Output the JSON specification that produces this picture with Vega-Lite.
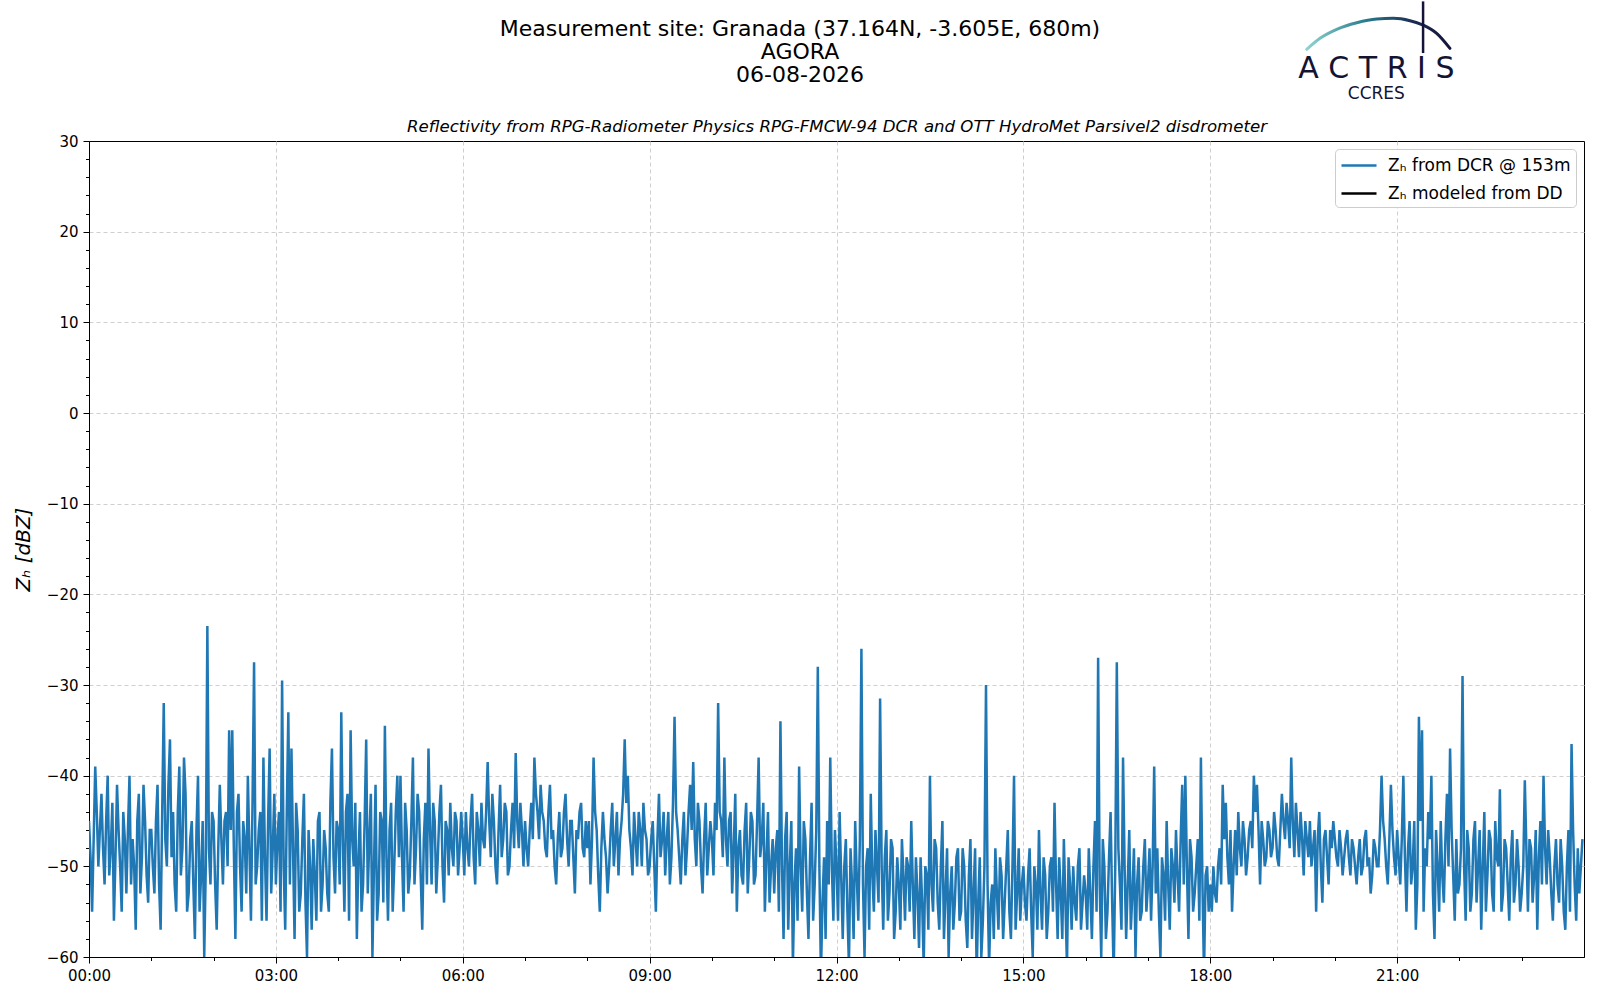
{
  "$schema": "https://vega.github.io/schema/vega-lite/v6.json",
  "width": 1495,
  "height": 816,
  "autosize": {"type": "none"},
  "padding": {"left": 89, "top": 141, "right": 16, "bottom": 43},
  "background": "white",
  "config": {
    "font": "DejaVu Sans",
    "view": {"stroke": "black", "strokeWidth": 1},
    "axis": {
      "domainColor": "black",
      "tickColor": "black",
      "labelColor": "black",
      "titleColor": "black",
      "labelFont": "DejaVu Sans",
      "titleFont": "DejaVu Sans",
      "labelFontSize": 15,
      "titleFontWeight": "normal",
      "gridColor": "#cfcfcf",
      "gridDash": [4, 3]
    }
  },
  "datasets": {
    "dcr": [
      {"m":0,"z":-45},{"m":3,"z":-55},{"m":6,"z":-39},{"m":9,"z":-50},{"m":12,"z":-42},{"m":15,"z":-52},{"m":18,"z":-40},{"m":21,"z":-48},{"m":24,"z":-56},{"m":27,"z":-41},{"m":30,"z":-50},{"m":33,"z":-44},{"m":36,"z":-53},{"m":39,"z":-40},{"m":42,"z":-47},{"m":45,"z":-57},{"m":48,"z":-42},{"m":51,"z":-49},{"m":54,"z":-45},{"m":57,"z":-54},
      {"m":60,"z":-46},{"m":63,"z":-53},{"m":66,"z":-41},{"m":69,"z":-57},{"m":72,"z":-32},{"m":75,"z":-50},{"m":78,"z":-36},{"m":81,"z":-44},{"m":84,"z":-55},{"m":87,"z":-39},{"m":90,"z":-48},{"m":93,"z":-42},{"m":96,"z":-53},{"m":99,"z":-45},{"m":102,"z":-58},{"m":105,"z":-40},{"m":108,"z":-51},{"m":111,"z":-60},{"m":114,"z":-23.5},{"m":117,"z":-52},
      {"m":120,"z":-45},{"m":123,"z":-57},{"m":126,"z":-41},{"m":129,"z":-52},{"m":132,"z":-44},{"m":135,"z":-35},{"m":138,"z":-35},{"m":141,"z":-58},{"m":144,"z":-42},{"m":147,"z":-55},{"m":150,"z":-47},{"m":153,"z":-40},{"m":156,"z":-56},{"m":159,"z":-27.5},{"m":162,"z":-50},{"m":165,"z":-44},{"m":168,"z":-38},{"m":171,"z":-56},{"m":174,"z":-37},{"m":177,"z":-48},
      {"m":180,"z":-52},{"m":183,"z":-44},{"m":186,"z":-29.5},{"m":189,"z":-57},{"m":192,"z":-33},{"m":195,"z":-37},{"m":198,"z":-58},{"m":201,"z":-46},{"m":204,"z":-53},{"m":207,"z":-42},{"m":210,"z":-60},{"m":213,"z":-50},{"m":216,"z":-47},{"m":219,"z":-56},{"m":222,"z":-44},{"m":225,"z":-52},{"m":228,"z":-48},{"m":231,"z":-55},{"m":234,"z":-37},{"m":237,"z":-53},
      {"m":240,"z":-46},{"m":243,"z":-33},{"m":246,"z":-55},{"m":249,"z":-42},{"m":252,"z":-35},{"m":255,"z":-50},{"m":258,"z":-58},{"m":261,"z":-44},{"m":264,"z":-52},{"m":267,"z":-36},{"m":270,"z":-47},{"m":273,"z":-60},{"m":276,"z":-41},{"m":279,"z":-53},{"m":282,"z":-45},{"m":285,"z":-34.5},{"m":288,"z":-56},{"m":291,"z":-43},{"m":294,"z":-50},{"m":297,"z":-40},
      {"m":300,"z":-40},{"m":303,"z":-55},{"m":306,"z":-46},{"m":309,"z":-51},{"m":312,"z":-38},{"m":315,"z":-48},{"m":318,"z":-44},{"m":321,"z":-57},{"m":324,"z":-43},{"m":327,"z":-37},{"m":330,"z":-52},{"m":333,"z":-45},{"m":336,"z":-49},{"m":339,"z":-41},{"m":342,"z":-54},{"m":345,"z":-46},{"m":348,"z":-43},{"m":351,"z":-50},{"m":354,"z":-45},{"m":357,"z":-48},
      {"m":360,"z":-47},{"m":363,"z":-44},{"m":366,"z":-50},{"m":369,"z":-42},{"m":372,"z":-52},{"m":375,"z":-46},{"m":378,"z":-43},{"m":381,"z":-48},{"m":384,"z":-38.5},{"m":387,"z":-49},{"m":390,"z":-45},{"m":393,"z":-52},{"m":396,"z":-41},{"m":399,"z":-47},{"m":402,"z":-44},{"m":405,"z":-50},{"m":408,"z":-43},{"m":411,"z":-37.5},{"m":414,"z":-48},{"m":417,"z":-46},
      {"m":420,"z":-45},{"m":423,"z":-50},{"m":426,"z":-43},{"m":429,"z":-38},{"m":432,"z":-44},{"m":435,"z":-41},{"m":438,"z":-45},{"m":441,"z":-49},{"m":444,"z":-41},{"m":447,"z":-46},{"m":450,"z":-52},{"m":453,"z":-44},{"m":456,"z":-48},{"m":459,"z":-42},{"m":462,"z":-50},{"m":465,"z":-45},{"m":468,"z":-53},{"m":471,"z":-47},{"m":474,"z":-43},{"m":477,"z":-49},
      {"m":480,"z":-48},{"m":483,"z":-52},{"m":486,"z":-38},{"m":489,"z":-46},{"m":492,"z":-55},{"m":495,"z":-44},{"m":498,"z":-49},{"m":501,"z":-50},{"m":504,"z":-43},{"m":507,"z":-47},{"m":510,"z":-51},{"m":513,"z":-45},{"m":516,"z":-36},{"m":519,"z":-40},{"m":522,"z":-48},{"m":525,"z":-44},{"m":528,"z":-50},{"m":531,"z":-46},{"m":534,"z":-43},{"m":537,"z":-47},
      {"m":540,"z":-50},{"m":543,"z":-45},{"m":546,"z":-55},{"m":549,"z":-42},{"m":552,"z":-47},{"m":555,"z":-51},{"m":558,"z":-44},{"m":561,"z":-49},{"m":564,"z":-33.5},{"m":567,"z":-46},{"m":570,"z":-52},{"m":573,"z":-44},{"m":576,"z":-48},{"m":579,"z":-41},{"m":582,"z":-38.5},{"m":585,"z":-50},{"m":588,"z":-45},{"m":591,"z":-53},{"m":594,"z":-43},{"m":597,"z":-48},
      {"m":600,"z":-47},{"m":603,"z":-43},{"m":606,"z":-32},{"m":609,"z":-45},{"m":612,"z":-38},{"m":615,"z":-50},{"m":618,"z":-44},{"m":621,"z":-48},{"m":624,"z":-55},{"m":627,"z":-46},{"m":630,"z":-52},{"m":633,"z":-43},{"m":636,"z":-49},{"m":639,"z":-45},{"m":642,"z":-51},{"m":645,"z":-38},{"m":648,"z":-47},{"m":651,"z":-55},{"m":654,"z":-44},{"m":657,"z":-50},
      {"m":660,"z":-53},{"m":663,"z":-46},{"m":666,"z":-34},{"m":669,"z":-58},{"m":672,"z":-44},{"m":675,"z":-50},{"m":678,"z":-61},{"m":681,"z":-48},{"m":684,"z":-39},{"m":687,"z":-55},{"m":690,"z":-47},{"m":693,"z":-58},{"m":696,"z":-43},{"m":699,"z":-52},{"m":702,"z":-28},{"m":705,"z":-62},{"m":708,"z":-49},{"m":711,"z":-45},{"m":714,"z":-38},{"m":717,"z":-56},
      {"m":720,"z":-50},{"m":723,"z":-44},{"m":726,"z":-58},{"m":729,"z":-47},{"m":732,"z":-61},{"m":735,"z":-52},{"m":738,"z":-45},{"m":741,"z":-56},{"m":744,"z":-26},{"m":747,"z":-60},{"m":750,"z":-48},{"m":753,"z":-42},{"m":756,"z":-55},{"m":759,"z":-50},{"m":762,"z":-31.5},{"m":765,"z":-57},{"m":768,"z":-46},{"m":771,"z":-53},{"m":774,"z":-48},{"m":777,"z":-55},
      {"m":780,"z":-52},{"m":783,"z":-47},{"m":786,"z":-56},{"m":789,"z":-50},{"m":792,"z":-45},{"m":795,"z":-58},{"m":798,"z":-53},{"m":801,"z":-49},{"m":804,"z":-61},{"m":807,"z":-51},{"m":810,"z":-40},{"m":813,"z":-55},{"m":816,"z":-48},{"m":819,"z":-57},{"m":822,"z":-45},{"m":825,"z":-53},{"m":828,"z":-60},{"m":831,"z":-50},{"m":834,"z":-54},{"m":837,"z":-48},
      {"m":840,"z":-55},{"m":843,"z":-50},{"m":846,"z":-59},{"m":849,"z":-47},{"m":852,"z":-53},{"m":855,"z":-62},{"m":858,"z":-49},{"m":861,"z":-56},{"m":864,"z":-30},{"m":867,"z":-61},{"m":870,"z":-52},{"m":873,"z":-48},{"m":876,"z":-57},{"m":879,"z":-51},{"m":882,"z":-54},{"m":885,"z":-46},{"m":888,"z":-58},{"m":891,"z":-40},{"m":894,"z":-53},{"m":897,"z":-56},
      {"m":900,"z":-50},{"m":903,"z":-56},{"m":906,"z":-48},{"m":909,"z":-60},{"m":912,"z":-52},{"m":915,"z":-46},{"m":918,"z":-57},{"m":921,"z":-51},{"m":924,"z":-55},{"m":927,"z":-49},{"m":930,"z":-43},{"m":933,"z":-58},{"m":936,"z":-53},{"m":939,"z":-47},{"m":942,"z":-61},{"m":945,"z":-52},{"m":948,"z":-50},{"m":951,"z":-56},{"m":954,"z":-48},{"m":957,"z":-54},
      {"m":960,"z":-53},{"m":963,"z":-48},{"m":966,"z":-58},{"m":969,"z":-45},{"m":972,"z":-27},{"m":975,"z":-60},{"m":978,"z":-50},{"m":981,"z":-55},{"m":984,"z":-44},{"m":987,"z":-62},{"m":990,"z":-27.5},{"m":993,"z":-52},{"m":996,"z":-38},{"m":999,"z":-58},{"m":1002,"z":-46},{"m":1005,"z":-53},{"m":1008,"z":-60},{"m":1011,"z":-49},{"m":1014,"z":-55},{"m":1017,"z":-47},
      {"m":1020,"z":-52},{"m":1023,"z":-56},{"m":1026,"z":-39},{"m":1029,"z":-48},{"m":1032,"z":-60},{"m":1035,"z":-51},{"m":1038,"z":-45},{"m":1041,"z":-57},{"m":1044,"z":-50},{"m":1047,"z":-46},{"m":1050,"z":-55},{"m":1053,"z":-41},{"m":1056,"z":-40},{"m":1059,"z":-58},{"m":1062,"z":-49},{"m":1065,"z":-53},{"m":1068,"z":-47},{"m":1071,"z":-38},{"m":1074,"z":-62},{"m":1077,"z":-50},
      {"m":1080,"z":-52},{"m":1083,"z":-50},{"m":1086,"z":-54},{"m":1089,"z":-48},{"m":1092,"z":-41},{"m":1095,"z":-43},{"m":1098,"z":-52},{"m":1101,"z":-55},{"m":1104,"z":-46},{"m":1107,"z":-44},{"m":1110,"z":-50},{"m":1113,"z":-47},{"m":1116,"z":-49},{"m":1119,"z":-45},{"m":1122,"z":-40},{"m":1125,"z":-41},{"m":1128,"z":-52},{"m":1131,"z":-47},{"m":1134,"z":-49},{"m":1137,"z":-46},
      {"m":1140,"z":-48},{"m":1143,"z":-46},{"m":1146,"z":-50},{"m":1149,"z":-42},{"m":1152,"z":-47},{"m":1155,"z":-45},{"m":1158,"z":-38},{"m":1161,"z":-49},{"m":1164,"z":-46},{"m":1167,"z":-44},{"m":1170,"z":-51},{"m":1173,"z":-47},{"m":1176,"z":-45},{"m":1179,"z":-48},{"m":1182,"z":-55},{"m":1185,"z":-44},{"m":1188,"z":-54},{"m":1191,"z":-46},{"m":1194,"z":-52},{"m":1197,"z":-48},
      {"m":1200,"z":-47},{"m":1203,"z":-50},{"m":1206,"z":-48},{"m":1209,"z":-49},{"m":1212,"z":-46},{"m":1215,"z":-51},{"m":1218,"z":-48},{"m":1221,"z":-52},{"m":1224,"z":-47},{"m":1227,"z":-50},{"m":1230,"z":-46},{"m":1233,"z":-49},{"m":1236,"z":-51},{"m":1239,"z":-48},{"m":1242,"z":-50},{"m":1245,"z":-40},{"m":1248,"z":-47},{"m":1251,"z":-52},{"m":1254,"z":-41},{"m":1257,"z":-49},
      {"m":1260,"z":-46},{"m":1263,"z":-52},{"m":1266,"z":-40},{"m":1269,"z":-55},{"m":1272,"z":-45},{"m":1275,"z":-50},{"m":1278,"z":-57},{"m":1281,"z":-33.5},{"m":1284,"z":-35},{"m":1287,"z":-48},{"m":1290,"z":-44},{"m":1293,"z":-40},{"m":1296,"z":-58},{"m":1299,"z":-50},{"m":1302,"z":-45},{"m":1305,"z":-54},{"m":1308,"z":-42},{"m":1311,"z":-37},{"m":1314,"z":-51},{"m":1317,"z":-47},
      {"m":1320,"z":-52},{"m":1323,"z":-29},{"m":1326,"z":-56},{"m":1329,"z":-48},{"m":1332,"z":-53},{"m":1335,"z":-45},{"m":1338,"z":-50},{"m":1341,"z":-57},{"m":1344,"z":-44},{"m":1347,"z":-51},{"m":1350,"z":-47},{"m":1353,"z":-55},{"m":1356,"z":-49},{"m":1359,"z":-41.5},{"m":1362,"z":-53},{"m":1365,"z":-48},{"m":1368,"z":-56},{"m":1371,"z":-46},{"m":1374,"z":-52},{"m":1377,"z":-50},
      {"m":1380,"z":-53},{"m":1383,"z":-40.5},{"m":1386,"z":-55},{"m":1389,"z":-48},{"m":1392,"z":-51},{"m":1395,"z":-57},{"m":1398,"z":-45},{"m":1401,"z":-40},{"m":1404,"z":-52},{"m":1407,"z":-49},{"m":1410,"z":-56},{"m":1413,"z":-47},{"m":1416,"z":-54},{"m":1419,"z":-50},{"m":1422,"z":-57},{"m":1425,"z":-46},{"m":1428,"z":-36.5},{"m":1431,"z":-52},{"m":1434,"z":-48},{"m":1437,"z":-50},
      {"m":1.5,"z":-49},{"m":4.5,"z":-47},{"m":7.5,"z":-44},{"m":10.5,"z":-46},{"m":13.5,"z":-48},{"m":16.5,"z":-45},{"m":19.5,"z":-51},{"m":22.5,"z":-43},{"m":25.5,"z":-49},{"m":28.5,"z":-46},{"m":31.5,"z":-55},{"m":34.5,"z":-47},{"m":37.5,"z":-46},{"m":40.5,"z":-52},{"m":43.5,"z":-50},{"m":46.5,"z":-45},{"m":49.5,"z":-53},{"m":52.5,"z":-41},{"m":55.5,"z":-51},{"m":58.5,"z":-46},
      {"m":61.5,"z":-50},{"m":64.5,"z":-45},{"m":67.5,"z":-52},{"m":70.5,"z":-44},{"m":73.5,"z":-47},{"m":76.5,"z":-41},{"m":79.5,"z":-49},{"m":82.5,"z":-52},{"m":85.5,"z":-44},{"m":88.5,"z":-51},{"m":91.5,"z":-38},{"m":94.5,"z":-55},{"m":97.5,"z":-47},{"m":100.5,"z":-52},{"m":103.5,"z":-46},{"m":106.5,"z":-55},{"m":109.5,"z":-45},{"m":112.5,"z":-50},{"m":115.5,"z":-48},{"m":118.5,"z":-44},
      {"m":121.5,"z":-52},{"m":124.5,"z":-48},{"m":127.5,"z":-47},{"m":130.5,"z":-45},{"m":133.5,"z":-50},{"m":136.5,"z":-46},{"m":139.5,"z":-48},{"m":142.5,"z":-44},{"m":145.5,"z":-50},{"m":148.5,"z":-45},{"m":151.5,"z":-53},{"m":154.5,"z":-48},{"m":157.5,"z":-43},{"m":160.5,"z":-52},{"m":163.5,"z":-46},{"m":166.5,"z":-56},{"m":169.5,"z":-49},{"m":172.5,"z":-45},{"m":175.5,"z":-53},{"m":178.5,"z":-42},
      {"m":181.5,"z":-47},{"m":184.5,"z":-55},{"m":187.5,"z":-50},{"m":190.5,"z":-44},{"m":193.5,"z":-52},{"m":196.5,"z":-48},{"m":199.5,"z":-43},{"m":202.5,"z":-55},{"m":205.5,"z":-47},{"m":208.5,"z":-54},{"m":211.5,"z":-46},{"m":214.5,"z":-57},{"m":217.5,"z":-51},{"m":220.5,"z":-45},{"m":223.5,"z":-55},{"m":226.5,"z":-46},{"m":229.5,"z":-53},{"m":232.5,"z":-43},{"m":235.5,"z":-49},{"m":238.5,"z":-45},
      {"m":241.5,"z":-52},{"m":244.5,"z":-47},{"m":247.5,"z":-44},{"m":250.5,"z":-56},{"m":253.5,"z":-47},{"m":256.5,"z":-43},{"m":259.5,"z":-49},{"m":262.5,"z":-55},{"m":265.5,"z":-45},{"m":268.5,"z":-53},{"m":271.5,"z":-42},{"m":274.5,"z":-50},{"m":277.5,"z":-56},{"m":280.5,"z":-44},{"m":283.5,"z":-54},{"m":286.5,"z":-49},{"m":289.5,"z":-46},{"m":292.5,"z":-55},{"m":295.5,"z":-44},{"m":298.5,"z":-49},
      {"m":301.5,"z":-49},{"m":304.5,"z":-43},{"m":307.5,"z":-53},{"m":310.5,"z":-45},{"m":313.5,"z":-52},{"m":316.5,"z":-42},{"m":319.5,"z":-51},{"m":322.5,"z":-47},{"m":325.5,"z":-52},{"m":328.5,"z":-46},{"m":331.5,"z":-43},{"m":334.5,"z":-53},{"m":337.5,"z":-44},{"m":340.5,"z":-50},{"m":343.5,"z":-45},{"m":346.5,"z":-51},{"m":349.5,"z":-48},{"m":352.5,"z":-44},{"m":355.5,"z":-51},{"m":358.5,"z":-44},
      {"m":361.5,"z":-51},{"m":364.5,"z":-48},{"m":367.5,"z":-45},{"m":370.5,"z":-49},{"m":373.5,"z":-44},{"m":376.5,"z":-50},{"m":379.5,"z":-47},{"m":382.5,"z":-44},{"m":385.5,"z":-45},{"m":388.5,"z":-42},{"m":391.5,"z":-50},{"m":394.5,"z":-46},{"m":397.5,"z":-49},{"m":400.5,"z":-43},{"m":403.5,"z":-51},{"m":406.5,"z":-46},{"m":409.5,"z":-48},{"m":412.5,"z":-45},{"m":415.5,"z":-43},{"m":418.5,"z":-50},
      {"m":421.5,"z":-48},{"m":424.5,"z":-46},{"m":427.5,"z":-47},{"m":430.5,"z":-42},{"m":433.5,"z":-47},{"m":436.5,"z":-44},{"m":439.5,"z":-48},{"m":442.5,"z":-44},{"m":445.5,"z":-47},{"m":448.5,"z":-50},{"m":451.5,"z":-47},{"m":454.5,"z":-49},{"m":457.5,"z":-44},{"m":460.5,"z":-47},{"m":463.5,"z":-45},{"m":466.5,"z":-49},{"m":469.5,"z":-46},{"m":472.5,"z":-44},{"m":475.5,"z":-48},{"m":478.5,"z":-45},
      {"m":481.5,"z":-45},{"m":484.5,"z":-47},{"m":487.5,"z":-44},{"m":490.5,"z":-51},{"m":493.5,"z":-48},{"m":496.5,"z":-47},{"m":499.5,"z":-53},{"m":502.5,"z":-46},{"m":505.5,"z":-50},{"m":508.5,"z":-44},{"m":511.5,"z":-47},{"m":514.5,"z":-42},{"m":517.5,"z":-43},{"m":520.5,"z":-46},{"m":523.5,"z":-51},{"m":526.5,"z":-47},{"m":529.5,"z":-44},{"m":532.5,"z":-50},{"m":535.5,"z":-46},{"m":538.5,"z":-51},
      {"m":541.5,"z":-47},{"m":544.5,"z":-50},{"m":547.5,"z":-47},{"m":550.5,"z":-49},{"m":553.5,"z":-44},{"m":556.5,"z":-47},{"m":559.5,"z":-52},{"m":562.5,"z":-43},{"m":565.5,"z":-44},{"m":568.5,"z":-49},{"m":571.5,"z":-47},{"m":574.5,"z":-51},{"m":577.5,"z":-44},{"m":580.5,"z":-46},{"m":583.5,"z":-47},{"m":586.5,"z":-43},{"m":589.5,"z":-50},{"m":592.5,"z":-47},{"m":595.5,"z":-51},{"m":598.5,"z":-45},
      {"m":601.5,"z":-51},{"m":604.5,"z":-46},{"m":607.5,"z":-44},{"m":610.5,"z":-49},{"m":613.5,"z":-47},{"m":616.5,"z":-45},{"m":619.5,"z":-53},{"m":622.5,"z":-42},{"m":625.5,"z":-48},{"m":628.5,"z":-51},{"m":631.5,"z":-46},{"m":634.5,"z":-53},{"m":637.5,"z":-44},{"m":640.5,"z":-52},{"m":643.5,"z":-45},{"m":646.5,"z":-49},{"m":649.5,"z":-43},{"m":652.5,"z":-49},{"m":655.5,"z":-54},{"m":658.5,"z":-47},
      {"m":661.5,"z":-48},{"m":664.5,"z":-55},{"m":667.5,"z":-50},{"m":670.5,"z":-47},{"m":673.5,"z":-57},{"m":676.5,"z":-45},{"m":679.5,"z":-52},{"m":682.5,"z":-56},{"m":685.5,"z":-50},{"m":688.5,"z":-45},{"m":691.5,"z":-53},{"m":694.5,"z":-49},{"m":697.5,"z":-56},{"m":700.5,"z":-46},{"m":703.5,"z":-50},{"m":706.5,"z":-54},{"m":709.5,"z":-58},{"m":712.5,"z":-52},{"m":715.5,"z":-50},{"m":718.5,"z":-46},
      {"m":721.5,"z":-56},{"m":724.5,"z":-51},{"m":727.5,"z":-50},{"m":730.5,"z":-55},{"m":733.5,"z":-48},{"m":736.5,"z":-58},{"m":739.5,"z":-51},{"m":742.5,"z":-47},{"m":745.5,"z":-52},{"m":748.5,"z":-50},{"m":751.5,"z":-57},{"m":754.5,"z":-51},{"m":757.5,"z":-46},{"m":760.5,"z":-54},{"m":763.5,"z":-50},{"m":766.5,"z":-49},{"m":769.5,"z":-56},{"m":772.5,"z":-47},{"m":775.5,"z":-58},{"m":778.5,"z":-49},
      {"m":781.5,"z":-57},{"m":784.5,"z":-51},{"m":787.5,"z":-49},{"m":790.5,"z":-55},{"m":793.5,"z":-52},{"m":796.5,"z":-49},{"m":799.5,"z":-59},{"m":802.5,"z":-54},{"m":805.5,"z":-50},{"m":808.5,"z":-57},{"m":811.5,"z":-52},{"m":814.5,"z":-47},{"m":817.5,"z":-54},{"m":820.5,"z":-50},{"m":823.5,"z":-58},{"m":826.5,"z":-48},{"m":829.5,"z":-53},{"m":832.5,"z":-57},{"m":835.5,"z":-49},{"m":838.5,"z":-56},
      {"m":841.5,"z":-48},{"m":844.5,"z":-56},{"m":847.5,"z":-51},{"m":850.5,"z":-58},{"m":853.5,"z":-48},{"m":856.5,"z":-54},{"m":859.5,"z":-60},{"m":862.5,"z":-50},{"m":865.5,"z":-52},{"m":868.5,"z":-54},{"m":871.5,"z":-58},{"m":874.5,"z":-53},{"m":877.5,"z":-49},{"m":880.5,"z":-58},{"m":883.5,"z":-50},{"m":886.5,"z":-55},{"m":889.5,"z":-50},{"m":892.5,"z":-57},{"m":895.5,"z":-48},{"m":898.5,"z":-52},
      {"m":901.5,"z":-54},{"m":904.5,"z":-51},{"m":907.5,"z":-55},{"m":910.5,"z":-50},{"m":913.5,"z":-57},{"m":916.5,"z":-53},{"m":919.5,"z":-49},{"m":922.5,"z":-58},{"m":925.5,"z":-50},{"m":928.5,"z":-55},{"m":931.5,"z":-52},{"m":934.5,"z":-49},{"m":937.5,"z":-58},{"m":940.5,"z":-54},{"m":943.5,"z":-49},{"m":946.5,"z":-57},{"m":949.5,"z":-54},{"m":952.5,"z":-50},{"m":955.5,"z":-57},{"m":958.5,"z":-51},
      {"m":961.5,"z":-57},{"m":964.5,"z":-53},{"m":967.5,"z":-50},{"m":970.5,"z":-55},{"m":973.5,"z":-52},{"m":976.5,"z":-47},{"m":979.5,"z":-58},{"m":982.5,"z":-49},{"m":985.5,"z":-54},{"m":988.5,"z":-50},{"m":991.5,"z":-48},{"m":994.5,"z":-57},{"m":997.5,"z":-50},{"m":1000.5,"z":-52},{"m":1003.5,"z":-57},{"m":1006.5,"z":-48},{"m":1009.5,"z":-52},{"m":1012.5,"z":-56},{"m":1015.5,"z":-50},{"m":1018.5,"z":-55},
      {"m":1021.5,"z":-48},{"m":1024.5,"z":-50},{"m":1027.5,"z":-53},{"m":1030.5,"z":-55},{"m":1033.5,"z":-49},{"m":1036.5,"z":-56},{"m":1039.5,"z":-52},{"m":1042.5,"z":-48},{"m":1045.5,"z":-54},{"m":1048.5,"z":-51},{"m":1051.5,"z":-47},{"m":1054.5,"z":-52},{"m":1057.5,"z":-50},{"m":1060.5,"z":-47},{"m":1063.5,"z":-55},{"m":1066.5,"z":-50},{"m":1069.5,"z":-56},{"m":1072.5,"z":-52},{"m":1075.5,"z":-51},{"m":1078.5,"z":-55},
      {"m":1081.5,"z":-55},{"m":1084.5,"z":-53},{"m":1087.5,"z":-50},{"m":1090.5,"z":-52},{"m":1093.5,"z":-47},{"m":1096.5,"z":-49},{"m":1099.5,"z":-46},{"m":1102.5,"z":-50},{"m":1105.5,"z":-51},{"m":1108.5,"z":-48},{"m":1111.5,"z":-45},{"m":1114.5,"z":-51},{"m":1117.5,"z":-46},{"m":1120.5,"z":-48},{"m":1123.5,"z":-44},{"m":1126.5,"z":-46},{"m":1129.5,"z":-45},{"m":1132.5,"z":-50},{"m":1135.5,"z":-45},{"m":1138.5,"z":-49},
      {"m":1141.5,"z":-44},{"m":1144.5,"z":-49},{"m":1147.5,"z":-46},{"m":1150.5,"z":-45},{"m":1153.5,"z":-43},{"m":1156.5,"z":-48},{"m":1159.5,"z":-45},{"m":1162.5,"z":-43},{"m":1165.5,"z":-49},{"m":1168.5,"z":-47},{"m":1171.5,"z":-45},{"m":1174.5,"z":-49},{"m":1177.5,"z":-50},{"m":1180.5,"z":-46},{"m":1183.5,"z":-47},{"m":1186.5,"z":-50},{"m":1189.5,"z":-47},{"m":1192.5,"z":-49},{"m":1195.5,"z":-46},{"m":1198.5,"z":-45},
      {"m":1201.5,"z":-49},{"m":1204.5,"z":-46},{"m":1207.5,"z":-51},{"m":1210.5,"z":-47},{"m":1213.5,"z":-49},{"m":1216.5,"z":-47},{"m":1219.5,"z":-50},{"m":1222.5,"z":-49},{"m":1225.5,"z":-51},{"m":1228.5,"z":-47},{"m":1231.5,"z":-50},{"m":1234.5,"z":-53},{"m":1237.5,"z":-47},{"m":1240.5,"z":-50},{"m":1243.5,"z":-46},{"m":1246.5,"z":-45},{"m":1249.5,"z":-50},{"m":1252.5,"z":-47},{"m":1255.5,"z":-46},{"m":1258.5,"z":-51},
      {"m":1261.5,"z":-49},{"m":1264.5,"z":-47},{"m":1267.5,"z":-49},{"m":1270.5,"z":-48},{"m":1273.5,"z":-52},{"m":1276.5,"z":-45},{"m":1279.5,"z":-52},{"m":1282.5,"z":-45},{"m":1285.5,"z":-55},{"m":1288.5,"z":-50},{"m":1291.5,"z":-47},{"m":1294.5,"z":-53},{"m":1297.5,"z":-46},{"m":1300.5,"z":-55},{"m":1303.5,"z":-51},{"m":1306.5,"z":-47},{"m":1309.5,"z":-50},{"m":1312.5,"z":-46},{"m":1315.5,"z":-56},{"m":1318.5,"z":-53},
      {"m":1321.5,"z":-48},{"m":1324.5,"z":-50},{"m":1327.5,"z":-46},{"m":1330.5,"z":-55},{"m":1333.5,"z":-47},{"m":1336.5,"z":-54},{"m":1339.5,"z":-46},{"m":1342.5,"z":-50},{"m":1345.5,"z":-55},{"m":1348.5,"z":-46},{"m":1351.5,"z":-53},{"m":1354.5,"z":-45},{"m":1357.5,"z":-50},{"m":1360.5,"z":-55},{"m":1363.5,"z":-47},{"m":1366.5,"z":-52},{"m":1369.5,"z":-49},{"m":1372.5,"z":-54},{"m":1375.5,"z":-47},{"m":1378.5,"z":-55},
      {"m":1381.5,"z":-50},{"m":1384.5,"z":-48},{"m":1387.5,"z":-47},{"m":1390.5,"z":-54},{"m":1393.5,"z":-46},{"m":1396.5,"z":-49},{"m":1399.5,"z":-52},{"m":1402.5,"z":-48},{"m":1405.5,"z":-46},{"m":1408.5,"z":-53},{"m":1411.5,"z":-50},{"m":1414.5,"z":-52},{"m":1417.5,"z":-47},{"m":1420.5,"z":-55},{"m":1423.5,"z":-50},{"m":1426.5,"z":-55},{"m":1429.5,"z":-46},{"m":1432.5,"z":-56},{"m":1435.5,"z":-53},{"m":1438.5,"z":-47}
    ],
    "logo": [
      {"m":1172.9,"v":40.11},{"m":1185.7,"v":41.33},{"m":1201.8,"v":42.32},{"m":1221.1,"v":43.05},{"m":1240.3,"v":43.46},
      {"m":1256.3,"v":43.53},{"m":1272.4,"v":43.27},{"m":1285.2,"v":42.79},{"m":1298.1,"v":41.88},{"m":1310.9,"v":40.22}
    ]
  },
  "layer": [
    {
      "data": {"name": "dcr"},
      "mark": {"type": "line", "strokeWidth": 2.5, "clip": true},
      "encoding": {
        "x": {
          "field": "m",
          "type": "quantitative",
          "scale": {"domain": [0, 1440], "nice": false, "zero": false},
          "axis": {
            "orient": "bottom",
            "title": null,
            "values": [0,60,120,180,240,300,360,420,480,540,600,660,720,780,840,900,960,1020,1080,1140,1200,1260,1320,1380],
            "labelExpr": "datum.value % 180 === 0 ? (datum.value < 600 ? '0' : '') + floor(datum.value / 60) + ':00' : ''",
            "labelOverlap": false,
            "labelFlush": false,
            "labelPadding": 5,
            "grid": true,
            "tickSize": {"condition": {"test": "datum.value % 180 === 0", "value": 6}, "value": 3.5},
            "gridOpacity": {"condition": {"test": "datum.value % 180 === 0 && datum.value > 0", "value": 1}, "value": 0}
          }
        },
        "y": {
          "field": "z",
          "type": "quantitative",
          "scale": {"domain": [-60, 30], "nice": false, "zero": false},
          "axis": {
            "orient": "left",
            "title": "Zₕ [dBZ]",
            "titleFontSize": 20,
            "titleFontStyle": "italic",
            "titlePadding": 13,
            "values": [-60,-58,-56,-54,-52,-50,-48,-46,-44,-42,-40,-38,-36,-34,-32,-30,-28,-26,-24,-22,-20,-18,-16,-14,-12,-10,-8,-6,-4,-2,0,2,4,6,8,10,12,14,16,18,20,22,24,26,28,30],
            "labelExpr": "datum.value % 10 === 0 ? replace(datum.label, '-', '−') : ''",
            "labelOverlap": false,
            "labelFlush": false,
            "labelPadding": 5,
            "grid": true,
            "tickSize": {"condition": {"test": "datum.value % 10 === 0", "value": 6}, "value": 3.5},
            "gridOpacity": {"condition": {"test": "datum.value % 10 === 0 && datum.value > -60 && datum.value < 30", "value": 1}, "value": 0}
          }
        },
        "color": {
          "datum": "Zₕ from DCR @ 153m",
          "type": "nominal",
          "scale": {"domain": ["Zₕ from DCR @ 153m", "Zₕ modeled from DD"], "range": ["#1f77b4", "#000000"]},
          "legend": {
            "title": null,
            "orient": "top-right",
            "offset": 8,
            "padding": 5,
            "fillColor": "white",
            "strokeColor": "#cccccc",
            "cornerRadius": 4,
            "labelFont": "DejaVu Sans",
            "labelFontSize": 17,
            "labelColor": "black",
            "labelLimit": 400,
            "labelOffset": 25,
            "symbolType": "M-1,0H2.5",
            "symbolSize": 400,
            "symbolStrokeWidth": 2.5,
            "rowPadding": 8
          }
        }
      }
    },
    {
      "data": {"name": "logo"},
      "mark": {
        "type": "line",
        "interpolate": "monotone",
        "strokeWidth": 3,
        "strokeCap": "round",
        "color": {
          "gradient": "linear", "x1": 0, "y1": 0, "x2": 1, "y2": 0,
          "stops": [
            {"offset": 0, "color": "#8fd3cf"},
            {"offset": 0.4, "color": "#2a7f8f"},
            {"offset": 0.75, "color": "#1c2a52"},
            {"offset": 1, "color": "#14143a"}
          ]
        }
      },
      "encoding": {
        "x": {
          "field": "m",
          "type": "quantitative",
          "scale": {"domain": [0, 1440], "nice": false, "zero": false},
          "axis": {
            "orient": "top",
            "title": "Reflectivity from RPG-Radiometer Physics RPG-FMCW-94 DCR and OTT HydroMet Parsivel2 disdrometer",
            "titleFontSize": 16.6,
            "titleFontStyle": "italic",
            "titlePadding": 7,
            "labels": false,
            "ticks": false,
            "domain": false,
            "grid": false
          }
        },
        "y": {"field": "v", "type": "quantitative", "scale": {"domain": [-60, 30], "nice": false, "zero": false}, "axis": null}
      }
    },
    {
      "data": {"values": [{}]},
      "mark": {"type": "rule", "color": "#14143a", "strokeWidth": 2.5},
      "encoding": {
        "x": {"datum": 1285, "type": "quantitative", "scale": {"domain": [0, 1440], "nice": false, "zero": false}, "axis": null},
        "y": {"datum": 45.4, "type": "quantitative", "scale": {"domain": [-60, 30], "nice": false, "zero": false}, "axis": null},
        "y2": {"datum": 39.7}
      }
    },
    {
      "data": {"values": [{}]},
      "mark": {"type": "text", "text": "A C T R I S", "font": "DejaVu Sans", "fontSize": 30, "color": "#141432", "align": "center", "baseline": "alphabetic"},
      "encoding": {
        "x": {"datum": 1240, "type": "quantitative", "scale": {"domain": [0, 1440], "nice": false, "zero": false}, "axis": null},
        "y": {"datum": 36.9, "type": "quantitative", "scale": {"domain": [-60, 30], "nice": false, "zero": false}, "axis": null}
      }
    },
    {
      "data": {"values": [{}]},
      "mark": {"type": "text", "text": "CCRES", "font": "DejaVu Sans", "fontSize": 17, "color": "#141432", "align": "center", "baseline": "alphabetic"},
      "encoding": {
        "x": {"datum": 1240, "type": "quantitative", "scale": {"domain": [0, 1440], "nice": false, "zero": false}, "axis": null},
        "y": {"datum": 34.6, "type": "quantitative", "scale": {"domain": [-60, 30], "nice": false, "zero": false}, "axis": null}
      }
    },
    {
      "data": {"values": [{}]},
      "mark": {
        "type": "text",
        "text": ["Measurement site: Granada (37.164N, -3.605E, 680m)", "AGORA", "06-08-2026"],
        "font": "DejaVu Sans",
        "fontSize": 22,
        "lineHeight": 23,
        "color": "black",
        "align": "center",
        "baseline": "alphabetic"
      },
      "encoding": {
        "x": {"datum": 684.8, "type": "quantitative", "scale": {"domain": [0, 1440], "nice": false, "zero": false}, "axis": null},
        "y": {"datum": 41.55, "type": "quantitative", "scale": {"domain": [-60, 30], "nice": false, "zero": false}, "axis": null}
      }
    }
  ],
  "resolve": {"axis": {"x": "independent", "y": "independent"}}
}
